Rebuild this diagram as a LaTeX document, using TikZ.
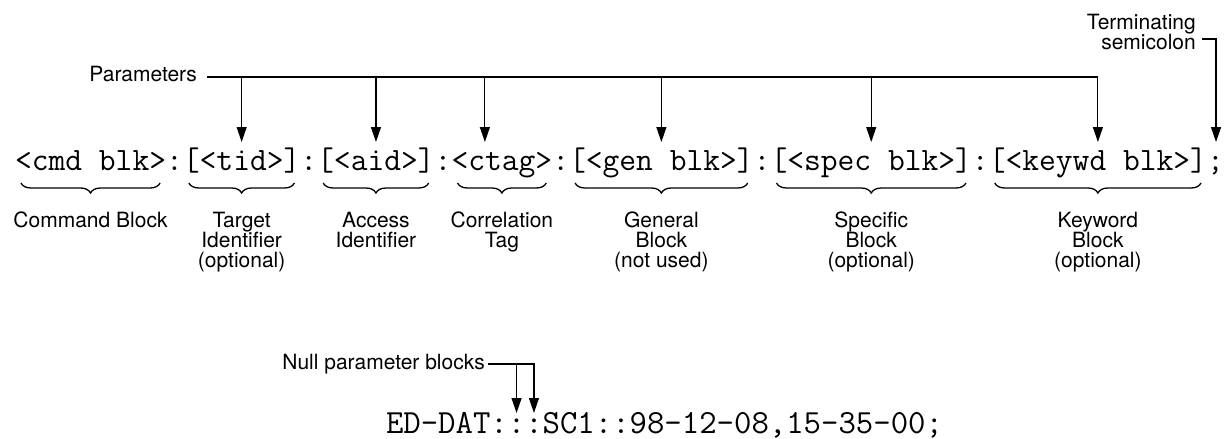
\documentclass[tikz,border=0pt]{standalone}
\usepackage{fontspec}
\setmainfont{TeX Gyre Heros}
\usetikzlibrary{arrows.meta,positioning,decorations.pathreplacing}

\begin{document}
\begin{tikzpicture}[x=1pt,y=-1pt,
    code/.style={font=\ttfamily\fontsize{32.6}{33}\selectfont,inner sep=0pt,outer sep=0pt,text height=28pt,text depth=7pt},
    msg/.style={font=\ttfamily\fontsize{33.8}{34}\selectfont,inner sep=0pt,outer sep=0pt,text height=20pt,text depth=3pt},
    lbl/.style={font=\fontsize{21}{20}\selectfont,align=center,inner sep=0pt},
    arr/.style={line width=1.1pt,-{Triangle[length=15pt,width=10pt]}},
    brc/.style={line width=1.3pt,decorate,decoration={brace,mirror,amplitude=10pt}}]
    \useasboundingbox (0,0) rectangle (1224,439);

    % command syntax
    \node[code,anchor=base west] (cmd) at (15,170) {<cmd blk>};
    \node[code,right=0pt of cmd] (c1) {:};
    \node[code,right=0pt of c1] (tid) {[<tid>]};
    \node[code,right=0pt of tid] (c2) {:};
    \node[code,right=0pt of c2] (aid) {[<aid>]};
    \node[code,right=0pt of aid] (c3) {:};
    \node[code,right=0pt of c3] (ctag) {<ctag>};
    \node[code,right=0pt of ctag] (c4) {:};
    \node[code,right=0pt of c4] (gen) {[<gen blk>]};
    \node[code,right=0pt of gen] (c5) {:};
    \node[code,right=0pt of c5] (spec) {[<spec blk>]};
    \node[code,right=0pt of spec] (c6) {:};
    \node[code,right=0pt of c6] (keywd) {[<keywd blk>]};
    \node[code,right=0pt of keywd] (semi) {\makebox[12pt][l]{;}};

    \foreach \n in {cmd,tid,aid,ctag,gen,spec,keywd}
        \draw[brc] ([xshift=6pt,yshift=-6pt]\n.south west) -- ([xshift=-6pt,yshift=-6pt]\n.south east);

    \node[lbl,below=35pt of cmd] (cmdlbl) {Command Block};
    \node[lbl,below=35pt of tid] (tidlbl) {Target\\Identifier\\(optional)};
    \node[lbl,below=35pt of aid] (aidlbl) {Access\\Identifier};
    \node[lbl,below=35pt of ctag] (ctaglbl) {Correlation\\Tag};
    \node[lbl,below=35pt of gen] (genlbl) {General\\Block\\(not used)};
    \node[lbl,below=35pt of spec] (speclbl) {Specific\\Block\\(optional)};
    \node[lbl,below=35pt of keywd] (keywdlbl) {Keyword\\Block\\(optional)};

    % parameters
    \node[lbl,anchor=east] (params) at (197,74) {Parameters};
    \coordinate (pbus) at ([xshift=10pt,yshift=-3pt]params.east);
    \draw[arr] (pbus) -| (keywd.north);
    \foreach \n in {tid,aid,gen,spec}
        \draw[arr] (\n.north |- pbus) -- (\n.north);
    \draw[arr] ([xshift=-17pt]ctag.north |- pbus) -- ([xshift=-17pt]ctag.north);

    \node[lbl,align=right,anchor=north east] (term) at (1196,14) {Terminating\\semicolon};
    \draw[arr] ([xshift=6pt,yshift=11pt]term.south east) -| ([xshift=3pt]semi.north);

    % example message
    \node[msg,anchor=base west] (msgcmd) at (386,433) {ED-DAT:};
    \node[msg,right=0pt of msgcmd] (tidnull) {:};
    \node[msg,right=0pt of tidnull] (aidnull) {:};
    \node[msg,right=0pt of aidnull] (msgrest) {SC1::98-12-08,15-35-00;};

    \node[lbl,anchor=east] (null) at (485,364) {Null parameter blocks};
    \draw[arr] ([xshift=3pt]null.east) -| (aidnull.north);
    \draw[arr] (tidnull.north |- null.east) -- (tidnull.north);
\end{tikzpicture}
\end{document}
